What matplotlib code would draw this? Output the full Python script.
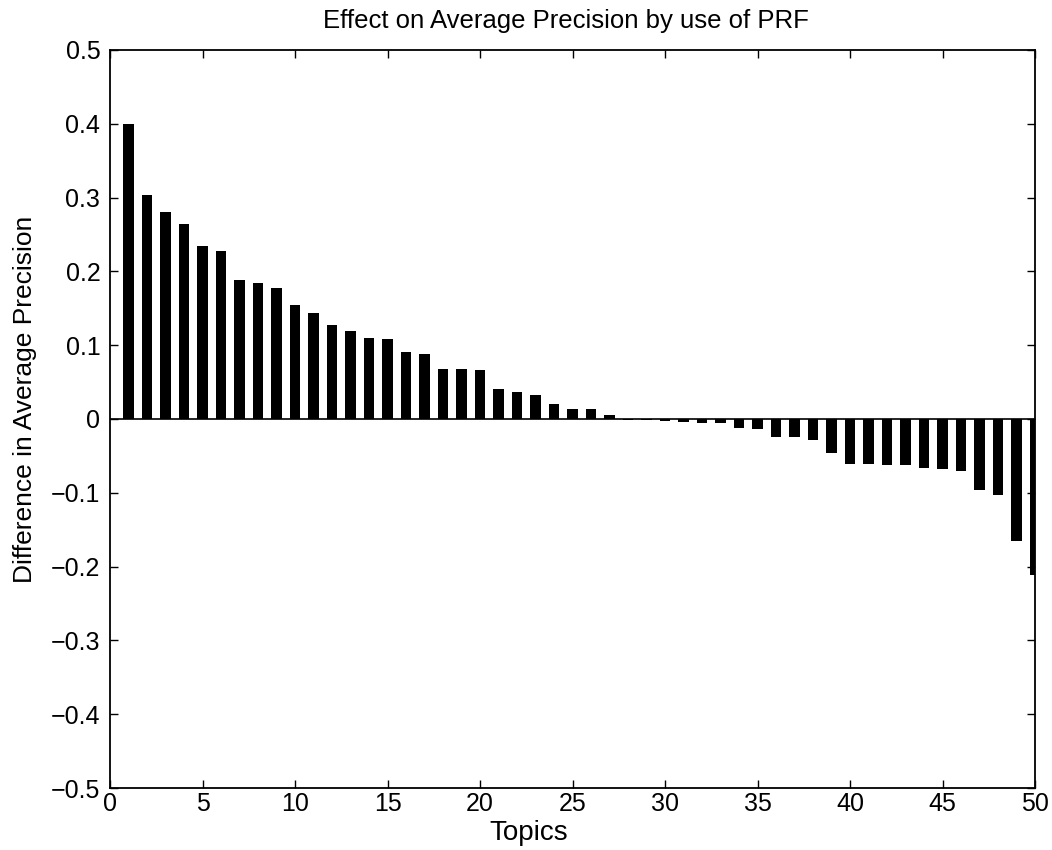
import numpy as np
import matplotlib.pyplot as plt

plt.rcParams['font.family'] = ['Liberation Sans', 'DejaVu Sans']

# Difference in average precision per topic (sorted)
topics = np.arange(1, 51)
diff_ap = [0.400, 0.303, 0.280, 0.264, 0.235, 0.228, 0.189, 0.184, 0.177, 0.154,
           0.143, 0.128, 0.119, 0.110, 0.108, 0.091, 0.088, 0.068, 0.068, 0.067,
           0.040, 0.036, 0.033, 0.020, 0.014, 0.013, 0.005, -0.001, -0.002, -0.003,
           -0.004, -0.006, -0.006, -0.012, -0.013, -0.024, -0.025, -0.029, -0.046, -0.061,
           -0.061, -0.062, -0.063, -0.066, -0.068, -0.070, -0.096, -0.103, -0.165, -0.211]
xticks = np.arange(0, 51, 5)
yticks = [-0.5, -0.4, -0.3, -0.2, -0.1, 0, 0.1, 0.2, 0.3, 0.4, 0.5]
ytick_labels = ['\u22120.5', '\u22120.4', '\u22120.3', '\u22120.2', '\u22120.1', '0',
                '0.1', '0.2', '0.3', '0.4', '0.5']

fig = plt.figure(figsize=(10.52, 8.5), dpi=100)
ax = fig.add_axes([110/1052, 1 - 788/850, 925/1052, 738/850])

ax.bar(topics, diff_ap, width=0.58, color='black', edgecolor='none')
ax.axhline(0, color='black', lw=1.2)

ax.set_xlim(0, 50)
ax.set_ylim(-0.5, 0.5)
ax.set_xticks(xticks)
ax.set_yticks(yticks)
ax.set_yticklabels(ytick_labels)
ax.tick_params(direction='in', top=True, right=True, labelsize=18, length=6,
               width=1, pad=7)
ax.tick_params(axis='x', pad=3)
for s in ax.spines.values():
    s.set_linewidth(1.3)

ax.set_xlabel('Topics', fontsize=20)
ax.xaxis.set_label_coords(0.453, -0.043)
ax.set_ylabel('Difference in Average Precision', fontsize=19)
ax.yaxis.set_label_coords(-0.079, 0.526)
ax.set_title('Effect on Average Precision by use of PRF', fontsize=18.5, pad=16, x=0.493)

fig.savefig('out.png', dpi=100)
